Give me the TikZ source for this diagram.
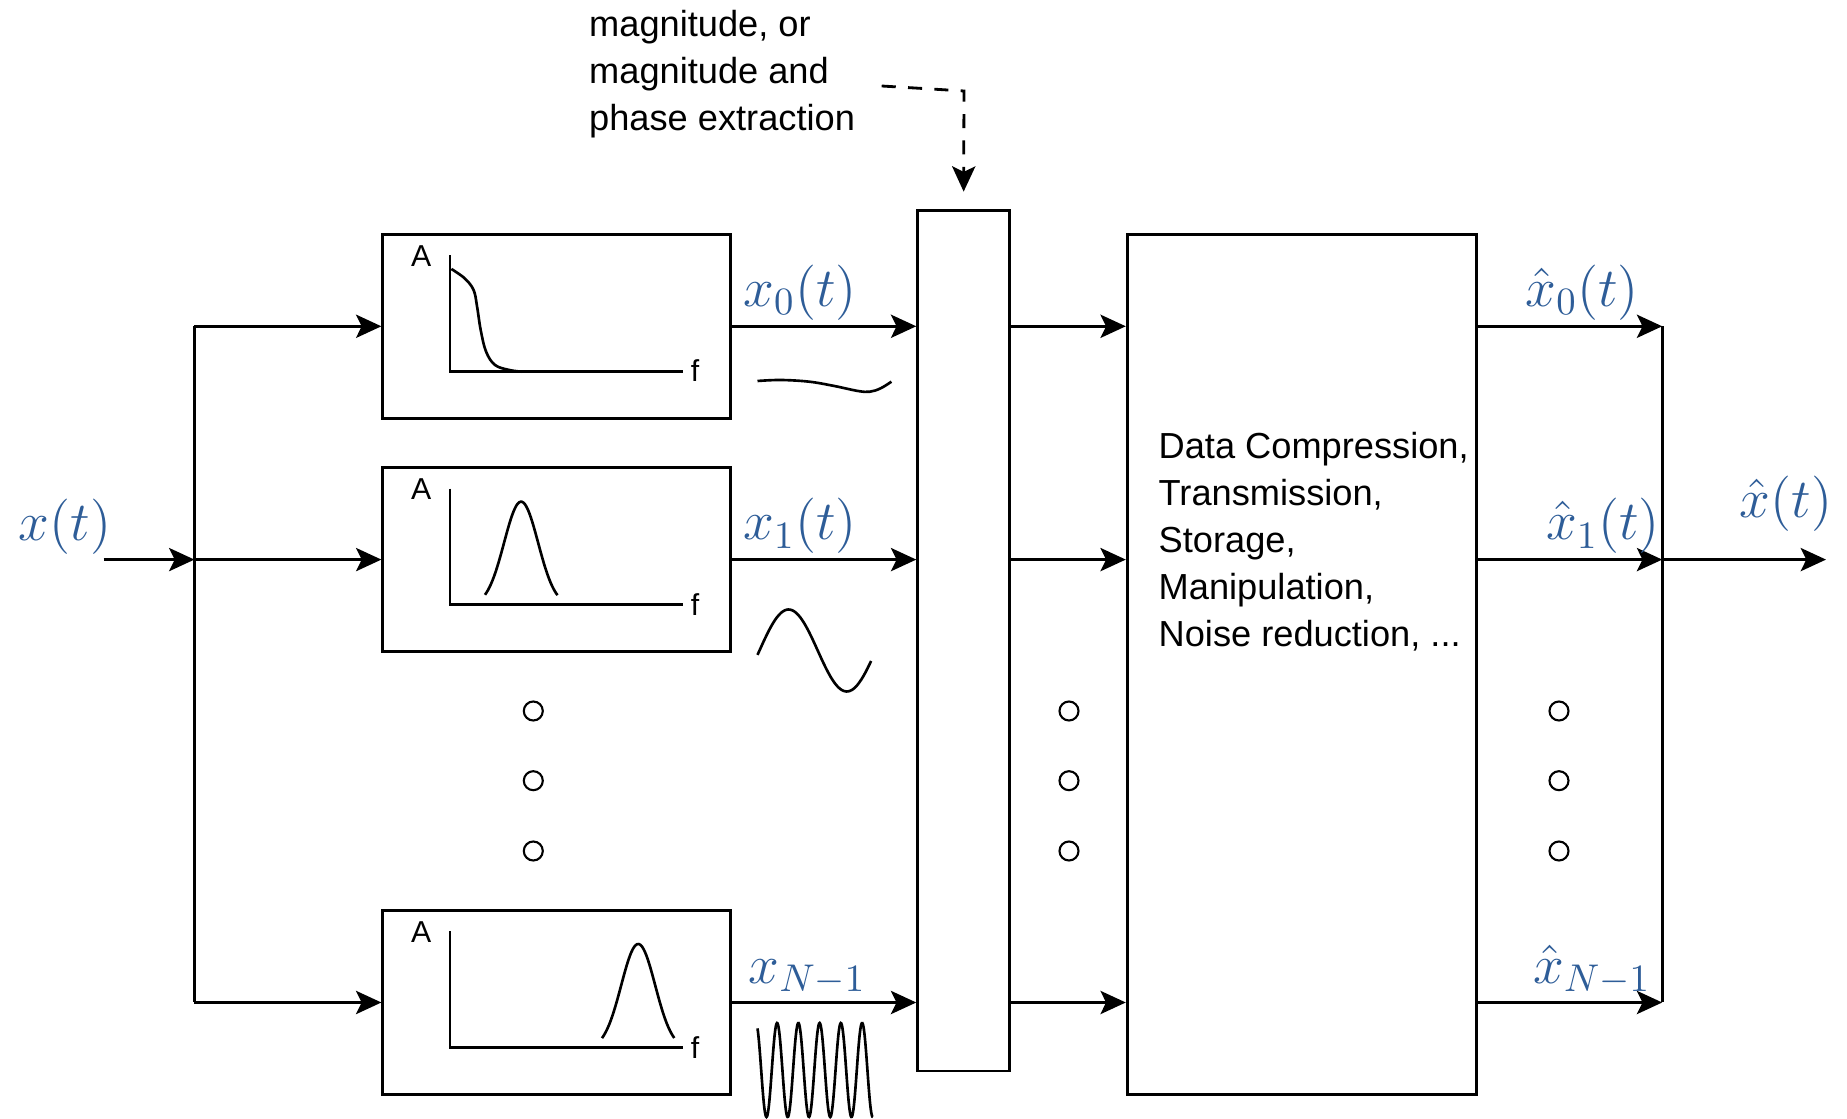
\documentclass[tikz,border=0pt]{standalone}
\usepackage{fix-cm}
\usepackage[no-math]{fontspec}
\setmainfont{Liberation Sans}
\usetikzlibrary{arrows.meta}

\definecolor{sigblue}{RGB}{46,93,152}

\tikzset{
  box/.style={draw, line width=0.8pt, inner sep=0pt},
  filterbox/.style={box, minimum width=3.475cm, minimum height=1.838cm},
  wire/.style={line width=0.8pt},
  flow/.style={line width=0.8pt, -{Stealth[length=7.2pt,width=6.6pt,inset=1.6pt]}},
  sig/.style={text=sigblue, font=\fontsize{15.7}{18}\selectfont, inner sep=1.3pt},
  ring/.style={draw, circle, line width=0.6pt, minimum size=0.19cm, inner sep=0pt},
  curve/.style={line width=0.75pt},
  axislabel/.style={font=\fontsize{8.6}{9}\selectfont, inner sep=0pt},
  note/.style={font=\fontsize{10.3}{13.4}\selectfont, align=left, inner sep=0pt},
}

\begin{document}
\begin{tikzpicture}[x=0.01cm, y=-0.01cm]
\useasboundingbox (0,0) rectangle (1847,1119);

\node[filterbox] (f0) at (556.65,326.3) {};
\node[filterbox] (f1) at (556.65,559.6) {};
\node[filterbox] (f2) at (556.65,1002.5) {};
\node[box, minimum width=0.919cm, minimum height=8.599cm] (ext) at (963.65,640.85) {};
\node[box, minimum width=3.487cm, minimum height=8.6cm] (proc) at (1301.65,664.4) {};

\node[note, anchor=base west] (proctext) at (1158,646.5) {Data Compression,\\Transmission,\\Storage,\\Manipulation,\\Noise reduction, ...};
\node[note, anchor=base west] (mag) at (588.5,130.5) {magnitude, or\\magnitude and\\phase extraction};

\foreach \b in {f0,f1,f2}{
  \draw[curve] ([shift={(68.5,22.3)}]\b.north west) |- ([shift={(301.4,138.3)}]\b.north west);
  \node[axislabel] (\b A) at ([shift={(39.8,23.1)}]\b.north west) {A};
  \node[axislabel] (\b F) at ([shift={(313.6,138.1)}]\b.north west) {f};
}

\draw[curve] plot[smooth, tension=0.6] coordinates {(451.4,269) (464.6,278.3) (473.6,290) (477.1,306.7) (480.7,330) (486.1,351.7) (495,365) (509.3,370) (521.8,371.7)};
\draw[curve] plot[domain=485:557.5, samples=50] (\x,{605.7-104*exp(-0.5*((\x-521.1)/17)*((\x-521.1)/17))});
\draw[curve] plot[domain=602:674.3, samples=50] (\x,{1049-105*exp(-0.5*((\x-638.2)/17)*((\x-638.2)/17))});

\draw[curve] plot[smooth, tension=0.6] coordinates {(757.5,381) (780.7,380) (809.3,381.7) (834.3,386) (858,391) (870,391.7) (880.7,388.3) (891.4,381.7)};
\draw[curve] plot[domain=757.5:871.1, samples=60] (\x,{650.5-41*sin(3.0928*(\x-759.5))});
\draw[curve] plot[domain=757.5:872.9, samples=220] (\x,{1070-47*sin(16.941*(\x-771.8))});

\coordinate (in) at (103.7,559.6);
\coordinate (split) at (194.4,559.6);
\draw[flow] (in) -- (split);
\node[sig, anchor=south east, xshift=3.6pt] (xin) at (in) {$x(t)$};
\draw[wire] (split |- f0.west) -- (split |- f2.west);
\foreach \i in {0,1,2}
  \draw[flow] (split |- f\i.west) -- (f\i.west);

\draw[flow] (f0.east) -- (ext.west |- f0.east) node[sig, pos=0.37, above] (x0) {$x_0(t)$};
\draw[flow] (f1.east) -- (ext.west |- f1.east) node[sig, pos=0.37, above] (x1) {$x_1(t)$};
\draw[flow] (f2.east) -- (ext.west |- f2.east) node[sig, pos=0.41, above, yshift=0.4pt] (xn) {$x_{N-1}$};

\foreach \i in {0,1,2}
  \draw[flow] (ext.east |- f\i.east) -- (proc.west |- f\i.east);

\coordinate (merge) at (1662.2,559.6);
\coordinate (out) at (1826,559.6);
\draw[flow] (proc.east |- f0.east) -- (merge |- f0.east) node[sig, pos=0.567, above] (y0) {$\hat{x}_0(t)$};
\draw[flow] (proc.east |- f1.east) -- (merge |- f1.east) node[sig, pos=0.68, above] (y1) {$\hat{x}_1(t)$};
\draw[flow] (proc.east |- f2.east) -- (merge |- f2.east) node[sig, pos=0.62, above, yshift=0.5pt] (yn) {$\hat{x}_{N-1}$};
\draw[wire] (merge |- f0.east) -- (merge |- f2.east);
\draw[flow] (merge) -- (out) node[sig, pos=0.756, above, yshift=6.4pt] (yout) {$\hat{x}(t)$};

\foreach \c/\x in {a/533.3, b/1069, c/1559}
  \foreach \r/\y in {1/711, 2/780.7, 3/851}
    \node[ring] (\c\r) at (\x,\y) {};

\coordinate (magsrc) at (881.7,86);
\coordinate (magbend) at (964,91);
\draw[flow, dash pattern=on 4pt off 3.5pt] (magsrc) -- (magbend) -- ([yshift=5pt]ext.north);

\end{tikzpicture}
\end{document}
